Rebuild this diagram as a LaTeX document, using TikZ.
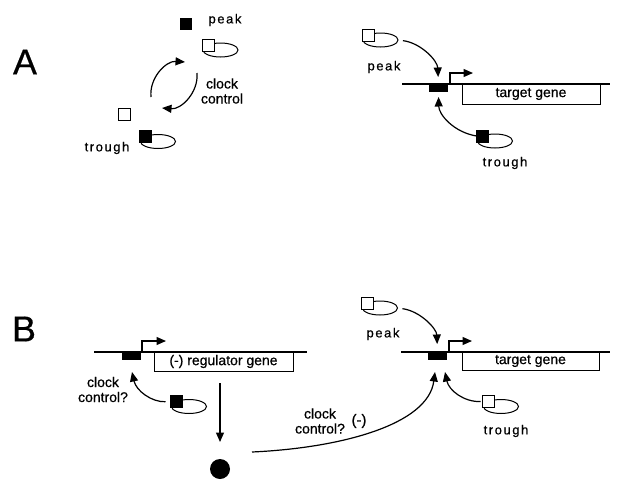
\documentclass[tikz,border=0pt]{standalone}
\usepackage{fontspec}
\setmainfont{Liberation Sans}[FakeBold=0.6]
\usetikzlibrary{arrows.meta,shapes.geometric,calc}
\begin{document}
\begin{tikzpicture}[x=1pt,y=-1pt,
  every node/.style={inner sep=0pt, outer sep=0pt},
  lbl/.style={font=\fontsize{14}{16}\selectfont, align=center},
  spaced/.style={font=\fontsize{13}{15}\selectfont\addfontfeature{LetterSpace=12}},
  panel/.style={font=\fontsize{36}{40}\selectfont},
  sqopen/.style={draw, fill=white, minimum size=12pt, line width=1pt},
  sqfull/.style={draw, fill=black, minimum size=12pt, line width=1pt},
  loopell/.style={ellipse, draw, minimum width=35pt, minimum height=14pt, line width=1pt},
  prom/.style={fill=black, minimum width=19pt, minimum height=8pt, anchor=north},
  genebox/.style={draw, line width=1pt, anchor=north west, font=\fontsize{14}{16}\selectfont},
  dna/.style={line width=1.2pt},
  arr/.style={line width=1.2pt, -{Triangle[length=9.5pt,width=8pt]}},
]
\useasboundingbox (0,0) rectangle (618,479);

% ---------------- panel A ----------------
\node[panel] (labA) at (25,62) {A};

% oscillating factor: peak and trough states
\node[sqfull, minimum size=11pt] (pkfree) at (186,24) {};
\node[spaced] (pktxt) at (225,20) {peak};
\node[loopell] (pkloop) at (220.5,50) {};
\node[sqopen] (pksq) at (208,45) {};

\node[sqopen] (trfree) at (124,114) {};
\node[loopell] (trloop) at (158,141.5) {};
\node[sqfull] (trsq) at (145.5,136.5) {};
\node[spaced] (trtxt) at (107,148) {trough};

\node[lbl] (cc) at (222,91) {clock\\[-1pt]control};

\coordinate (cyc1a) at (151,97);
\coordinate (cyc1b) at (185,62);
\coordinate (cyc2a) at (197,73);
\coordinate (cyc2b) at (162,108);
\draw[arr] (cyc1a) to[bend left=50] (cyc1b);
\draw[arr] (cyc2a) to[bend left=50] (cyc2b);

% target gene under clock control
\node[prom] (promA) at (438.5,84) {};
\node[genebox, minimum width=138pt, minimum height=20pt] (geneA) at (462,84) {target gene};
\draw[dna] (402,84) coordinate (dnaAl) -- (610,84) coordinate (dnaAr);
\draw[arr] ($(promA.north east)+(2,0)$) -- ++(0,-11) -- ++(23,0);

\node[loopell] (pkAloop) at (380.5,40) {};
\node[sqopen] (pkAsq) at (368,35) {};
\node[spaced] (pkAtxt) at (384,67) {peak};
\draw[arr, shorten <=5pt, shorten >=7pt] (pkAloop.east) to[bend left=40] (promA.north);

\node[loopell] (trAloop) at (495,141) {};
\node[sqfull] (trAsq) at (482.5,136) {};
\node[spaced] (trAtxt) at (505,163) {trough};
\draw[arr, shorten >=5pt] (trAsq.west) to[bend left=40] (promA.south);

% ---------------- panel B ----------------
\node[panel] (labB) at (24,329) {B};

% regulator gene
\node[prom] (promL) at (131.5,352) {};
\node[genebox, minimum width=139pt, minimum height=19pt] (regbox) at (154,352) {(-) regulator gene};
\draw[dna] (94,352) coordinate (dnaLl) -- (307,352) coordinate (dnaLr);
\draw[arr] ($(promL.north east)+(1,0)$) -- ++(0,-11) -- ++(24,0);

\node[lbl] (ccL) at (103,389.5) {clock\\[-1pt]control?};
\node[loopell] (trLloop) at (189,406.5) {};
\node[sqfull] (trLsq) at (176.5,401.5) {};
\coordinate (tipL) at (132,372);
\draw[arr, shorten <=5pt] (trLsq.west) to[bend left=40] (tipL);

% regulator product
\coordinate (downs) at (220,383);
\node[circle, fill=black, minimum size=20pt] (prod) at (220,469) {};
\draw[arr, shorten >=17pt] (downs) -- (prod.north);

% target gene
\node[prom] (promR) at (437.5,352) {};
\node[genebox, minimum width=137pt, minimum height=18pt] (geneB) at (462,352) {target gene};
\draw[dna] (401,352) coordinate (dnaRl) -- (610,352) coordinate (dnaRr);
\draw[arr] ($(promR.north east)+(2,0)$) -- ++(0,-11) -- ++(23,0);

\node[loopell] (pkBloop) at (380,308) {};
\node[sqopen] (pkBsq) at (367.5,303) {};
\node[spaced] (pkBtxt) at (383,334) {peak};
\draw[arr, shorten <=5pt, shorten >=8pt] (pkBloop.east) to[bend left=40] (promR.north);

\node[loopell] (trBloop) at (501,406.5) {};
\node[sqopen] (trBsq) at (488.5,401.5) {};
\node[spaced] (trBtxt) at (506,431) {trough};
\coordinate (tipR2) at (445,372);
\draw[arr, shorten <=2pt] (trBsq.west) to[bend left=40] (tipR2);

% repression by the regulator product
\coordinate (tipR1) at (435,372);
\coordinate (curvs) at (252,452);
\draw[arr] (curvs) .. controls (340,448) and (428,425) .. (tipR1);
\node[lbl] (ccR) at (320,421) {clock\\[-1pt]control?};
\node[font=\fontsize{15}{17}\selectfont] (minus) at (359,421) {(-)};

\end{tikzpicture}
\end{document}
